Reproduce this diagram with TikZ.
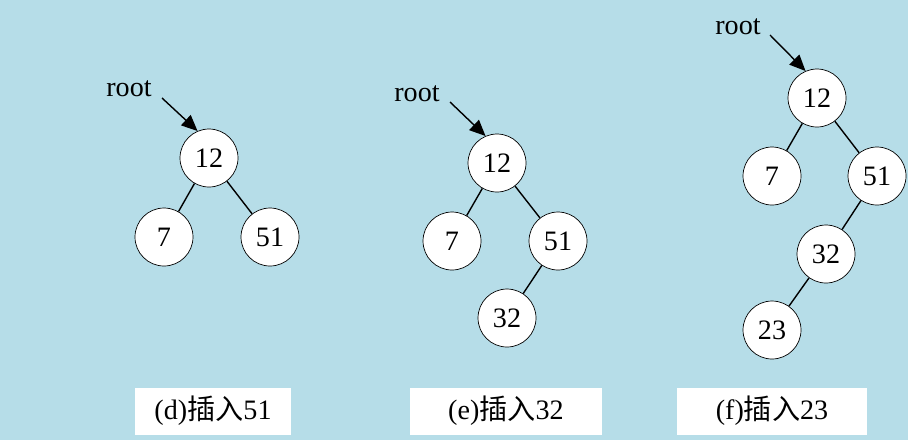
\documentclass[tikz,border=0pt]{standalone}
\usepackage{fontspec}
\setmainfont{Liberation Serif}
\newfontfamily\cjk{Noto Sans CJK SC}
\usepackage{tikz}
\usetikzlibrary{arrows.meta}
\definecolor{bgblue}{HTML}{B6DDE8}

\begin{document}
\begin{tikzpicture}[x=0.02cm,y=-0.02cm,
  key/.style={circle,draw,fill=white,minimum size=1.16cm,inner sep=0pt,font=\fontsize{16}{18}\selectfont},
  caption/.style={fill=white,minimum width=#1,minimum height=0.94cm,font=\fontsize{16}{18}\selectfont},
  rootlbl/.style={font=\fontsize{16}{18}\selectfont},
  link/.style={thick},
  ptr/.style={thick,-{Triangle[length=0.32cm,width=0.28cm]}}]
\fill[bgblue] (0,0) rectangle (908,440);
\useasboundingbox (0,0) rectangle (908,440);
% (d)
\node[rootlbl] (dRoot) at (129,89) {root};
\coordinate (dTail) at (162,98);
\node[key] (d12) at (209,158) {12};
\node[key] (d7) at (164,237) {7};
\node[key] (d51) at (270,237) {51};
\draw[ptr] (dTail) -- (d12.113);
\draw[link] (d12) -- (d7);
\draw[link] (d12) -- (d51);
\node[caption=3.12cm] (dCap) at (213,411) {(d){\cjk 插入}51};
% (e)
\node[rootlbl] (eRoot) at (417,94) {root};
\coordinate (eTail) at (450,102);
\node[key] (e12) at (497,163) {12};
\node[key] (e7) at (452,241) {7};
\node[key] (e51) at (558,241) {51};
\node[key] (e32) at (507,318) {32};
\draw[ptr] (eTail) -- (e12.113);
\draw[link] (e12) -- (e7);
\draw[link] (e12) -- (e51);
\draw[link] (e51) -- (e32);
\node[caption=3.86cm] (eCap) at (506,411) {(e){\cjk 插入}32};
% (f)
\node[rootlbl] (fRoot) at (738,27) {root};
\coordinate (fTail) at (770,35);
\node[key] (f12) at (817,98) {12};
\node[key] (f7) at (772,176) {7};
\node[key] (f51) at (877,176) {51};
\node[key] (f32) at (826,254) {32};
\node[key] (f23) at (772,330) {23};
\draw[ptr] (fTail) -- (f12.113);
\draw[link] (f12) -- (f7);
\draw[link] (f12) -- (f51);
\draw[link] (f51) -- (f32);
\draw[link] (f32) -- (f23);
\node[caption=3.82cm] (fCap) at (772,411) {(f){\cjk 插入}23};
\end{tikzpicture}
\end{document}
